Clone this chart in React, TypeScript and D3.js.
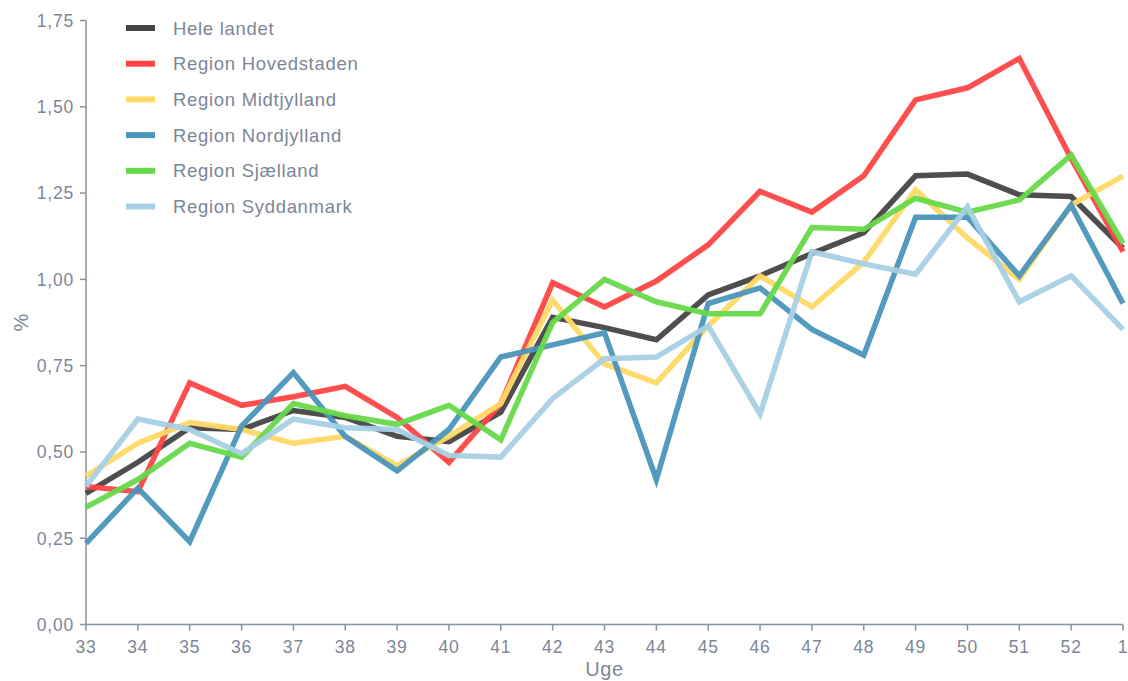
import React from "react";
import * as d3 from "d3";

const weeks = ["33","34","35","36","37","38","39","40","41","42","43","44","45","46","47","48","49","50","51","52","1"];
const seriesNames = ["Hele landet","Region Hovedstaden","Region Midtjylland","Region Nordjylland","Region Sjælland","Region Syddanmark"];
const seriesColors = ["#454545","#ff4545","#ffd966","#4a95bc","#66d94a","#a6d0e4"];

const heleLandet = [0.38,0.47,0.57,0.565,0.62,0.60,0.545,0.53,0.615,0.89,0.86,0.825,0.955,1.01,1.075,1.135,1.30,1.305,1.245,1.24,1.09];
const hovedstaden = [0.40,0.385,0.70,0.635,0.66,0.69,0.60,0.47,0.64,0.99,0.92,0.995,1.10,1.255,1.195,1.30,1.52,1.555,1.64,1.35,1.08];
const midtjylland = [0.43,0.525,0.585,0.565,0.525,0.545,0.46,0.545,0.64,0.94,0.755,0.70,0.865,1.01,0.92,1.05,1.26,1.12,1.0,1.215,1.30];
const nordjylland = [0.235,0.395,0.24,0.575,0.73,0.545,0.445,0.565,0.775,0.81,0.845,0.42,0.93,0.975,0.855,0.78,1.18,1.18,1.01,1.215,0.93];
const sjaelland = [0.34,0.42,0.525,0.485,0.64,0.605,0.58,0.635,0.535,0.875,1.0,0.935,0.90,0.90,1.15,1.145,1.235,1.195,1.23,1.36,1.105];
const syddanmark = [0.40,0.595,0.565,0.495,0.595,0.57,0.565,0.49,0.485,0.655,0.77,0.775,0.865,0.61,1.08,1.045,1.015,1.21,0.935,1.01,0.855];
const yTicks = [0,0.25,0.5,0.75,1.0,1.25,1.5,1.75];

const allSeries = [heleLandet, hovedstaden, midtjylland, nordjylland, sjaelland, syddanmark];

export default function App() {
  const W = 1128, H = 681;
  const left = 86, right = 1123, top = 20.5, bottom = 624.5;
  const x = d3.scalePoint<string>().domain(weeks).range([left, right]);
  const y = d3.scaleLinear().domain([0, 1.75]).range([bottom, top]);
  const line = d3.line<number>().x((_, i) => x(weeks[i]) as number).y((d) => y(d));
  const axisColor = "#8792a2";
  const textColor = "#7d8696";
  const font = "'Liberation Sans', Arial, sans-serif";
  return (
    <svg width={W} height={H} style={{ position: "absolute", left: 0, top: 0, background: "#fff" }} fontFamily={font}>
      {/* y axis */}
      <line x1={left} x2={left} y1={top} y2={bottom} stroke={axisColor} strokeWidth={1.5} />
      {yTicks.map((t) => (
        <g key={t}>
          <line x1={left - 6} x2={left} y1={y(t)} y2={y(t)} stroke={axisColor} strokeWidth={1.5} />
          <text x={left - 12} y={y(t)} dy="0.36em" textAnchor="end" fontSize={17.5} letterSpacing={0.8} fill={textColor}>
            {t.toFixed(2).replace(".", ",")}
          </text>
        </g>
      ))}
      {/* x axis */}
      <line x1={left} x2={right} y1={bottom} y2={bottom} stroke={axisColor} strokeWidth={1.5} />
      {weeks.map((w) => (
        <g key={w}>
          <line x1={x(w)} x2={x(w)} y1={bottom} y2={bottom + 6} stroke={axisColor} strokeWidth={1.5} />
          <text x={x(w)} y={bottom + 28.5} textAnchor="middle" fontSize={17.5} letterSpacing={0.8} fill={textColor}>{w}</text>
        </g>
      ))}
      <text x={(left + right) / 2} y={675.5} textAnchor="middle" fontSize={20} letterSpacing={0.6} fill={textColor}>Uge</text>
      <text transform={`translate(28, ${(top + bottom) / 2}) rotate(-90)`} textAnchor="middle" fontSize={20} fill={textColor}>%</text>
      {/* lines */}
      {allSeries.map((s, i) => (
        <path key={i} d={line(s) || ""} fill="none" stroke={seriesColors[i]} strokeWidth={5.5} strokeOpacity={0.95} strokeLinejoin="miter" />
      ))}
      {/* legend */}
      {seriesNames.map((n, i) => (
        <g key={n} transform={`translate(126, ${28 + i * 35.7})`}>
          <line x1={0} x2={29} y1={0} y2={0} stroke={seriesColors[i]} strokeWidth={6} />
          <text x={47} y={0} dy="0.36em" fontSize={18.5} letterSpacing={0.7} fill={textColor}>{n}</text>
        </g>
      ))}
    </svg>
  );
}
